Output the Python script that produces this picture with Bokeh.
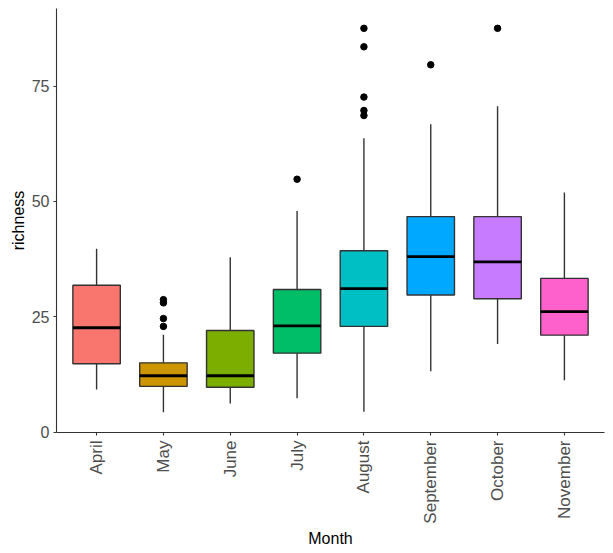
from bokeh.plotting import figure
from bokeh.models import ColumnDataSource, FactorRange, Range1d, FixedTicker
from bokeh.transform import dodge
from bokeh.embed import file_html
from bokeh.resources import INLINE

months = ["April", "May", "June", "July", "August", "September", "October", "November"]
q1 = [14.8, 9.9, 9.7, 17.1, 22.9, 29.7, 28.9, 21.0]
median = [22.6, 12.2, 12.2, 23.0, 31.1, 38.0, 36.9, 26.1]
q3 = [31.8, 15.0, 22.0, 30.9, 39.3, 46.7, 46.7, 33.3]
lower = [9.2, 4.3, 6.2, 7.3, 4.4, 13.2, 19.1, 11.2]
upper = [39.7, 21.1, 37.9, 47.9, 63.7, 66.7, 70.6, 51.9]
colors = ["#F8766D", "#CD9600", "#7CAE00", "#00BE67", "#00BFC4", "#00A9FF", "#C77CFF", "#FF61CC"]

out_month = ["May", "May", "May", "May", "July",
             "August", "August", "August", "August", "August",
             "September", "October"]
out_value = [28.7, 28.0, 24.6, 22.9, 54.8,
             87.5, 83.5, 72.6, 69.7, 68.6,
             79.6, 87.5]

y_ticks = [0, 25, 50, 75]

src = ColumnDataSource(dict(month=months, q1=q1, median=median, q3=q3,
                            lower=lower, upper=upper, color=colors))
out_src = ColumnDataSource(dict(month=out_month, value=out_value))

p = figure(width=613, height=553, output_backend="svg", toolbar_location=None,
           x_range=FactorRange(factors=months, range_padding=0.1, range_padding_units="absolute"),
           y_range=Range1d(-0.1, 91.8),
           min_border_left=56, min_border_right=9, min_border_top=8, min_border_bottom=121)

p.outline_line_color = None
p.grid.visible = False
p.background_fill_color = "white"
p.border_fill_color = "white"

# whiskers
p.segment(x0="month", y0="q3", x1="month", y1="upper", source=src,
          line_color="#333333", line_width=1.4)
p.segment(x0="month", y0="q1", x1="month", y1="lower", source=src,
          line_color="#333333", line_width=1.4)
# boxes
p.vbar(x="month", top="q3", bottom="q1", width=0.71, source=src,
       fill_color="color", line_color="#333333", line_width=1.4)
# medians
p.segment(x0=dodge("month", -0.355, range=p.x_range), y0="median",
          x1=dodge("month", 0.355, range=p.x_range), y1="median",
          source=src, line_color="black", line_width=2.8)
# outliers
p.scatter(x="month", y="value", source=out_src, size=6.5,
          fill_color="black", line_color="black")

for ax in (p.xaxis[0], p.yaxis[0]):
    ax.axis_line_color = "#333333"
    ax.axis_line_width = 1.1
    ax.major_tick_line_color = "#333333"
    ax.major_tick_line_width = 1.1
    ax.major_tick_out = 3
    ax.major_tick_in = 0
    ax.minor_tick_line_color = None
    ax.major_label_text_font = "Liberation Sans"
    ax.major_label_text_font_size = "16px"
    ax.major_label_text_color = "#4D4D4D"
    ax.axis_label_text_font = "Liberation Sans"
    ax.axis_label_text_font_size = "16px"
    ax.axis_label_text_font_style = "normal"
    ax.axis_label_text_color = "#000000"

p.yaxis[0].ticker = FixedTicker(ticks=y_ticks)
p.yaxis[0].axis_label = "richness"
p.yaxis[0].major_label_standoff = 4
p.yaxis[0].axis_label_standoff = 2

p.xaxis[0].axis_label = "Month"
p.xaxis[0].major_label_orientation = 3.14159265 / 2
p.xaxis[0].major_label_text_font_size = "17px"
p.xaxis[0].major_label_standoff = 5
p.xaxis[0].axis_label_standoff = 3

open("out.html", "w").write(file_html(p, INLINE))
